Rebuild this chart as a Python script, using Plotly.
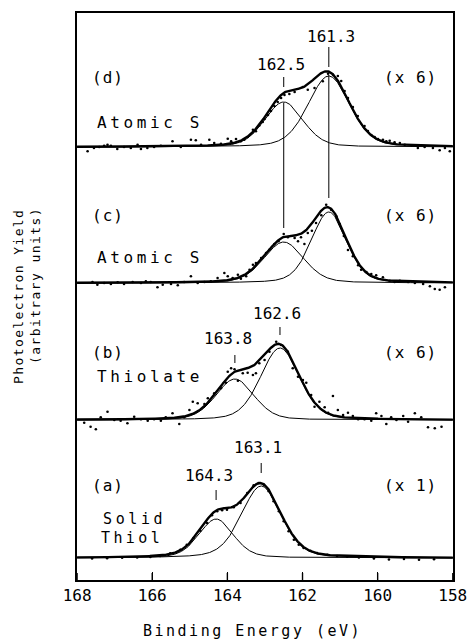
import numpy as np
import plotly.graph_objects as go

# ---------------- data ----------------
energy_ticks = [168, 166, 164, 162, 160, 158]
panel_letters = ["(a)", "(b)", "(c)", "(d)"]
panel_names = ["Solid<br>Thiol", "Thiolate", "Atomic S", "Atomic S"]
panel_scales = ["(x 1)", "(x 6)", "(x 6)", "(x 6)"]
panel_offsets = [22, 160, 297, 433]

# fitted S 2p components: centre (eV), height, FWHM (eV), Lorentz fraction
a_centers = [163.1, 164.3]
a_heights = [72, 39]
a_fwhm = [1.25, 1.08]
a_eta = 0.3

b_centers = [162.6, 163.8]
b_heights = [72, 41]
b_fwhm = [1.22, 1.2]
b_eta = 0.25

c_centers = [161.3, 162.5]
c_heights = [71, 41]
c_fwhm = [1.1, 1.25]
c_eta = 0.25

d_centers = [161.3, 162.5]
d_heights = [71, 45]
d_fwhm = [1.3, 1.2]
d_eta = 0.25

# measured points (energy eV, intensity above panel baseline)
a_dot_energy = [167.6, 167.2, 166.8, 166.4, 166.05, 165.79, 165.52, 165.25, 165.08, 164.90,
                164.72, 164.54, 164.41, 164.27, 164.14, 164.01, 163.83, 163.65, 163.47, 163.30,
                163.17, 163.03, 162.90, 162.77, 162.63, 162.50, 162.37, 162.23, 162.10, 161.97,
                161.79, 161.61, 161.34, 161.08, 160.81, 160.5, 160.1, 159.7, 159.3, 158.9, 158.5]
a_dot_int = [-0.5, -0.3, 0.2, 0.5, 1.0, 2.0, 4.7, 8.3, 13.3, 20.0,
             27.3, 35.0, 42.7, 46.7, 47.7, 48.3, 50.7, 55.0, 65.0, 72.7,
             75.0, 73.3, 66.7, 56.7, 46.7, 36.7, 26.7, 18.3, 13.3, 10.0,
             7.3, 5.0, 3.3, 2.0, 1.3, 0.5, -0.5, -1.5, -1.0, -1.8, -1.2]

b_dot_energy = [167.81, 167.64, 167.50, 167.37, 167.19, 167.01, 166.84, 166.66, 166.48, 166.30,
                166.12, 165.95, 165.77, 165.64, 165.46, 165.28, 165.15, 165.01, 164.92, 164.79,
                164.61, 164.52, 164.35, 164.17, 164.04, 163.99, 163.90, 163.81, 163.72, 163.59,
                163.46, 163.32, 163.24, 163.15, 163.01, 162.88, 162.70, 162.57, 162.39, 162.26,
                162.12, 161.99, 161.90, 161.77, 161.68, 161.55, 161.41, 161.32, 161.19, 161.06,
                160.92, 160.79, 160.66, 160.52, 160.35, 160.17, 160.04, 159.90, 159.77, 159.64,
                159.50, 159.32, 159.19, 159.01, 158.84, 158.66, 158.48, 158.30]
b_dot_int = [-2.7, -6.7, -9.3, 2.7, 8.3, 0.0, -0.7, -3.3, 3.3, 0.7,
             -0.7, 0.7, -0.7, 2.7, 6.7, -4.0, 2.7, 10.0, 18.3, 16.7,
             16.0, 21.7, 26.7, 31.7, 37.3, 48.3, 51.7, 50.7, 39.3, 46.7,
             47.3, 45.0, 46.7, 56.7, 60.0, 68.3, 78.3, 75.0, 68.3, 51.7,
             43.3, 40.0, 37.3, 25.0, 13.3, 18.3, 12.7, 7.3, 24.0, 10.0,
             5.0, 7.3, 4.0, 0.7, 0.7, -0.7, 6.7, 4.0, -4.0, 2.7,
             0.0, 4.0, -1.7, 6.7, 2.7, -7.3, -8.3, -6.7]

c_dot_energy = [167.59, 167.46, 167.28, 167.10, 166.92, 166.75, 166.52, 166.30, 166.17, 166.04,
                165.86, 165.72, 165.50, 165.32, 165.15, 164.97, 164.79, 164.61, 164.44, 164.26,
                164.08, 163.99, 163.86, 163.72, 163.64, 163.50, 163.41, 163.32, 163.24, 163.10,
                162.97, 162.88, 162.75, 162.64, 162.50, 162.39, 162.21, 162.12, 162.04, 161.95,
                161.86, 161.75, 161.64, 161.50, 161.37, 161.24, 161.10, 161.01, 160.90, 160.79,
                160.66, 160.52, 160.44, 160.30, 160.17, 160.04, 159.86, 159.68, 159.55, 159.41,
                159.19, 159.01, 158.79, 158.61, 158.48, 158.35, 158.21]
c_dot_int = [1.0, -1.7, 0.0, -1.0, 0.7, -1.0, 1.0, 0.0, 1.7, 1.0,
             -4.3, -1.7, -1.0, -2.3, 1.0, 6.7, 0.0, 1.0, 1.7, 5.0,
             10.0, 6.7, 5.0, 8.3, 4.3, 6.7, 13.3, 18.3, 20.0, 25.0,
             30.0, 33.3, 39.0, 41.7, 49.0, 45.7, 45.0, 41.7, 45.7, 39.0,
             50.0, 52.3, 60.0, 67.7, 78.3, 73.3, 66.7, 59.0, 47.0, 33.0,
             26.7, 17.7, 13.3, 11.0, 9.0, 7.7, 5.7, 2.3, 1.0, 2.3,
             1.0, 0.0, -1.0, -3.3, -6.0, -6.7, -4.3]

d_dot_energy = [167.72, 167.55, 167.41, 167.28, 167.19, 167.10, 166.93, 166.75, 166.57, 166.39,
                166.30, 166.13, 165.95, 165.77, 165.46, 165.24, 164.97, 164.84, 164.70, 164.48,
                164.35, 164.17, 163.99, 163.90, 163.77, 163.64, 163.55, 163.46, 163.32, 163.24,
                163.15, 163.06, 163.01, 162.92, 162.84, 162.75, 162.66, 162.57, 162.48, 162.35,
                162.21, 161.99, 161.86, 161.68, 161.46, 161.32, 161.19, 161.06, 160.97, 160.88,
                160.79, 160.66, 160.53, 160.35, 160.26, 160.17, 160.08, 159.99, 159.86, 159.77,
                159.68, 159.55, 159.41, 159.28, 159.10, 158.93, 158.75, 158.53, 158.35, 158.21,
                158.08]
d_dot_int = [-4.3, -1.0, 0.0, 1.3, 2.3, 1.3, -2.0, 0.0, -1.0, 2.3,
             -2.0, -1.0, 0.0, 1.3, 5.7, 0.0, 7.3, 6.7, 2.3, 7.3,
             4.0, 3.3, 8.3, 5.7, 8.0, 5.7, 7.3, 10.0, 17.3, 15.7,
             21.5, 25.0, 28.0, 32.0, 36.0, 41.0, 45.0, 49.0, 52.0, 53.0,
             55.0, 60.0, 57.3, 59.0, 65.7, 73.3, 72.3, 71.0, 66.0, 56.0,
             49.0, 40.0, 31.0, 21.0, 16.0, 12.0, 10.0, 8.0, 7.3, 5.7,
             6.3, 4.7, 4.0, 2.3, 1.3, -1.0, 0.0, -1.0, -3.3, -1.0,
             -4.3]

# peak markers: label and centre
marker_labels = ["161.3", "162.5", "162.6", "163.8", "163.1", "164.3"]
marker_centers = [161.3, 162.5, 162.6, 163.8, 163.1, 164.3]

# ---------------- figure ----------------
W, H = 468, 642
L, R, T, B = 77, 15, 13, 62
YMAX = 567


def pv(E, c, h, w, eta):
    g = np.exp(-4 * np.log(2) * (E - c) ** 2 / w ** 2)
    lo = 1.0 / (1.0 + 4 * (E - c) ** 2 / w ** 2)
    return h * ((1 - eta) * g + eta * lo)


E = np.linspace(158, 168, 801)
panels = [
    (a_centers, a_heights, a_fwhm, a_eta, a_dot_energy, a_dot_int),
    (b_centers, b_heights, b_fwhm, b_eta, b_dot_energy, b_dot_int),
    (c_centers, c_heights, c_fwhm, c_eta, c_dot_energy, c_dot_int),
    (d_centers, d_heights, d_fwhm, d_eta, d_dot_energy, d_dot_int),
]

fig = go.Figure()
for (cen, hts, fw, eta, de, di), off in zip(panels, panel_offsets):
    comps = [pv(E, c, h, w, eta) for c, h, w in zip(cen, hts, fw)]
    for comp in comps:
        fig.add_trace(go.Scatter(x=E, y=comp + off, mode="lines",
                                 line=dict(color="black", width=1), hoverinfo="skip",
                                 showlegend=False))
    fig.add_trace(go.Scatter(x=E, y=comps[0] + comps[1] + off, mode="lines",
                             line=dict(color="black", width=2.4), hoverinfo="skip",
                             showlegend=False))
    fig.add_trace(go.Scatter(x=de, y=np.array(di) + off, mode="markers",
                             marker=dict(color="black", size=2.6), hoverinfo="skip",
                             showlegend=False))

# vertical marker lines at the peak centres (y extents in plot units)
marker_spans = [
    (marker_centers[0], 533, 513),
    (marker_centers[0], 505, 382),
    (marker_centers[1], 503, 493),
    (marker_centers[1], 477, 352),
    (marker_centers[2], 253, 245),
    (marker_centers[3], 225, 217),
    (marker_centers[4], 117, 107),
    (marker_centers[5], 90, 80),
]
for xc, y0, y1 in marker_spans:
    fig.add_trace(go.Scatter(x=[xc, xc], y=[y0, y1], mode="lines",
                             line=dict(color="black", width=1), hoverinfo="skip",
                             showlegend=False))

# inward tick marks on the energy axis
for t in energy_ticks:
    fig.add_trace(go.Scatter(x=[t, t], y=[0, 7], mode="lines",
                             line=dict(color="black", width=1.4), hoverinfo="skip",
                             showlegend=False))


def px2paper(px, py):
    return (px - L) / (W - L - R), (H - B - py) / (H - T - B)


FONT = "DejaVu Sans Mono"
ann = []


def add_text(text, px, py, size=16, spacing=None, angle=0, xanchor="center"):
    x, y = px2paper(px, py)
    if spacing:
        text = '<span style="letter-spacing:%spx">%s</span>' % (spacing, text)
    ann.append(dict(text=text, x=x, y=y, xref="paper", yref="paper", showarrow=False,
                    xanchor=xanchor, yanchor="middle", textangle=angle,
                    font=dict(family=FONT, size=size, color="black")))


# peak value labels
label_pos = {"161.3": (331, 36), "162.5": (281, 64), "162.6": (277, 313),
             "163.8": (228, 338), "163.1": (258, 447), "164.3": (209, 475)}
for lab in marker_labels:
    add_text(lab, *label_pos[lab], size=16)

letter_y = [485, 352, 215, 77]
name_y = [528, 376, 257, 122]
for i in range(4):
    add_text(panel_letters[i], 108, letter_y[i], size=16, spacing=1)
    add_text(panel_scales[i], 410, letter_y[i], size=16, spacing=1)
for i in range(4):
    if i == 0:
        first, second = panel_names[0].split("<br>")
        add_text(first, 101, 519, size=15, spacing=3.6, xanchor="left")
        add_text(second, 99, 538, size=15, spacing=3.4, xanchor="left")
    else:
        add_text(panel_names[i], 95, name_y[i], size=16, spacing=3.6, xanchor="left")

add_text("Binding Energy (eV)", 141, 631, size=15, spacing=2.5, xanchor="left")
add_text("Photoelectron Yield", 18, 297, size=13, spacing=1.4, angle=-90)
add_text("(arbitrary units)", 35, 286, size=13, spacing=1.4, angle=-90)

fig.update_layout(
    width=W, height=H,
    margin=dict(l=L, r=R, t=T, b=B, autoexpand=False),
    paper_bgcolor="white", plot_bgcolor="white",
    annotations=ann,
    showlegend=False,
    xaxis=dict(range=[168.002, 157.995], tickvals=energy_ticks,
               ticktext=[str(t) for t in energy_ticks],
               ticks="inside", ticklen=8, tickwidth=1.4, tickcolor="black",
               ticklabeloverflow="allow", automargin=False,
               showline=True, linecolor="black", linewidth=1.5, mirror=True,
               showgrid=False, zeroline=False,
               tickfont=dict(family=FONT, size=16, color="black")),
    yaxis=dict(range=[0, YMAX], showticklabels=False, ticks="", automargin=False,
               showline=True, linecolor="black", linewidth=1.5, mirror=True,
               showgrid=False, zeroline=False),
)

fig.write_html("out.html", config={"displayModeBar": False},
               post_script="document.body.style.margin='0px';document.body.style.padding='0px';")
